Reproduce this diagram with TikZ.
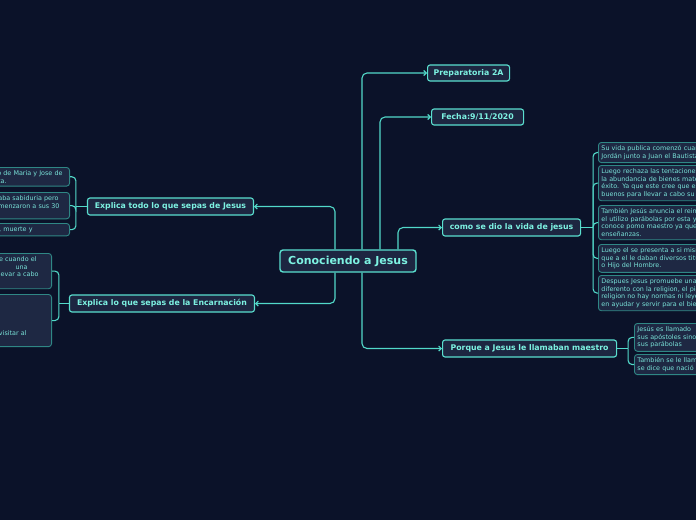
\documentclass[tikz,border=0pt]{standalone}
\usepackage{fontspec}
\setmainfont{DejaVu Sans}
\usetikzlibrary{arrows.meta}
\definecolor{bg}{HTML}{0B1229}
\definecolor{nodefill}{HTML}{1D2641}
\definecolor{mainb}{HTML}{5ADFCF}
\definecolor{maintext}{HTML}{7DF2E2}
\definecolor{leafb}{HTML}{2F8785}
\definecolor{leaffill}{HTML}{1E2843}
\definecolor{leaftext}{HTML}{79E2D8}
\definecolor{connc}{HTML}{52D9C9}
\newcommand\frag[2]{\makebox[#1pt][r]{#2}}
\begin{document}
\begin{tikzpicture}[x=1pt,y=-1pt,
  rootnode/.style={draw=mainb, fill=nodefill, line width=1.4pt, rounded corners=3pt,
    text=maintext, font=\bfseries\fontsize{11}{13}\selectfont,
    minimum width=136pt, minimum height=22pt, inner sep=0pt},
  mainnode/.style={draw=mainb, fill=nodefill, line width=1.1pt, rounded corners=2.5pt,
    text=maintext, font=\bfseries\fontsize{7.8}{9}\selectfont,
    minimum height=16pt, inner xsep=3pt, inner ysep=0pt},
  leafnode/.style={draw=leafb, fill=leaffill, line width=0.9pt, rounded corners=3pt,
    text=leaftext, font=\fontsize{6.4}{7.7}\selectfont, align=left,
    inner xsep=3pt, inner ysep=3pt},
  rleaf/.style={leafnode, anchor=north west, text width=200pt},
  lleaf/.style={leafnode, anchor=north east, text width=100pt},
  conn/.style={draw=connc, line width=1.1pt, rounded corners=5pt},
  arr/.style={conn, -{Straight Barb[length=2.5pt,width=5pt]}}
]
\fill[bg] (0,0) rectangle (696,520);
\useasboundingbox (0,0) rectangle (696,520);
\clip (0,0) rectangle (696,520);

% main nodes
\node[rootnode] (root) at (348,261) {Conociendo a Jesus};
\node[mainnode, minimum width=82pt, anchor=west] (prep) at (427,73) {Preparatoria 2A};
\node[mainnode, minimum width=92pt, anchor=west] (fecha) at (431,117) {Fecha:9/11/2020};
\node[mainnode, minimum width=138pt, minimum height=17pt, anchor=west] (vida) at (442,227.5) {como se dio la vida de jesus};
\node[mainnode, minimum width=174pt, minimum height=17pt, anchor=west] (maestro) at (442,348.5) {Porque a Jesus le llamaban maestro};
\node[mainnode, minimum width=166pt, minimum height=17pt, anchor=east] (todo) at (254,206.5) {Explica todo lo que sepas de Jesus};
\node[mainnode, minimum width=185pt, minimum height=17pt, anchor=east] (encar) at (255,303.5) {Explica lo que sepas de la Encarnación};

% main connectors
\draw[arr] ([xshift=14pt]root.north) |- (prep.west);
\draw[arr] ([xshift=32pt]root.north) |- (fecha.west);
\draw[arr] ([xshift=50pt]root.north) |- (vida.west);
\draw[arr] ([xshift=14pt]root.south) |- (maestro.west);
\draw[arr] ([xshift=-13pt]root.north) |- (todo.east);
\draw[arr] ([xshift=-13pt]root.south) |- (encar.east);

% leaves of "como se dio la vida de jesus"
\node[rleaf] (c1) at (598,142) {Su vida publica comenzó cuando fue bautizado en el río\\Jordán junto a Juan el Bautista.};
\node[rleaf] (c2) at (598,165) {Luego rechaza las tentaciones del demonio, como\\la abundancia de bienes materiales, el poder y el\\éxito. Ya que este cree que estos no son\\buenos para llevar a cabo su misión.};
\node[rleaf] (c3) at (598,205) {También Jesús anuncia el reino de Dios y para esto\\el utilizo parábolas por esta y muchas razones se le\\conoce pomo maestro ya que daba muchas\\enseñanzas.};
\node[rleaf] (c4) at (598,244) {Luego el se presenta a si mismo como el Mesías ya\\que a el le daban diversos titulos como el Mesías\\o Hijo del Hombre.};
\node[rleaf] (c5) at (598,275) {Despues Jesus promuebe una forma de vida\\diferento con la religion, el piensa que en la\\religion no hay normas ni leyes si no que consiste\\en ayudar y servir para el bien de los demás.};
\coordinate (vb) at ([xshift=12pt]vida.east);
\draw[conn] (vida.east) -- (vb);
\foreach \c in {c1,c2,c3,c4,c5} \draw[conn, rounded corners=4pt] (vb) |- (\c.west);

% leaves of "Porque a Jesus le llamaban maestro"
\node[rleaf] (p1) at (634,323) {Jesús es llamado\\sus apóstoles sino por todos por\\sus parábolas};
\node[rleaf] (p2) at (634,354) {También se le llamaba maestro porque\\se dice que nació para enseñar.};
\coordinate (mb) at ([xshift=11pt]maestro.east);
\draw[conn] (maestro.east) -- (mb);
\foreach \c in {p1,p2} \draw[conn, rounded corners=4pt] (mb) |- (\c.west);

% leaves of "Explica todo lo que sepas de Jesus"
\node[lleaf] (t1) at (70,167) {\frag{96}{hijo de Maria y Jose de}\\\frag{40}{devota.}};
\node[lleaf] (t2) at (70,192) {\frag{92}{mostraba sabiduria pero}\\\frag{93}{comenzaron a sus 30}\\\frag{20}{años.}};
\node[lleaf] (t3) at (70,223) {\frag{66}{pasión, muerte y}};
\coordinate (tb) at ([xshift=-11pt]todo.west);
\draw[conn] (todo.west) -- (tb);
\foreach \c in {t1,t2,t3} \draw[conn, rounded corners=4pt] (tb) |- (\c.east);

% leaves of "Explica lo que sepas de la Encarnación"
\node[lleaf] (e1) at (52,253) {\frag{88}{que cuando el}\\\frag{79}{una}\\\frag{90}{llevar a cabo}\\\frag{30}{plan.}};
\node[lleaf] (e2) at (52,294) {\mbox{}\\\mbox{}\\\mbox{}\\\mbox{}\\\mbox{}\\\frag{78}{visitar al}\\\mbox{}};
\coordinate (eb) at ([xshift=-10pt]encar.west);
\draw[conn] (encar.west) -- (eb);
\foreach \c in {e1,e2} \draw[conn, rounded corners=4pt] (eb) |- (\c.east);
\end{tikzpicture}
\end{document}
